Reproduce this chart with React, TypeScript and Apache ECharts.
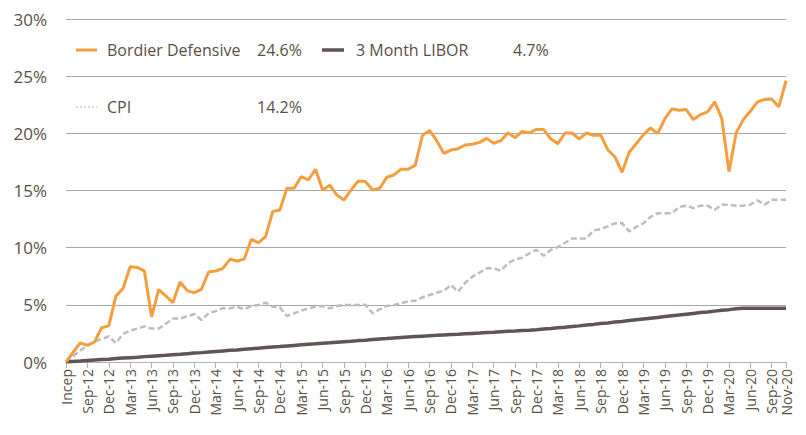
import React, { useEffect, useRef } from "react";
import * as echarts from "echarts";

const categories = [
  "Incep", "Jul-12", "Aug-12", "Sep-12", "Oct-12", "Nov-12", "Dec-12",
  "Jan-13", "Feb-13", "Mar-13", "Apr-13", "May-13", "Jun-13", "Jul-13", "Aug-13", "Sep-13", "Oct-13", "Nov-13", "Dec-13",
  "Jan-14", "Feb-14", "Mar-14", "Apr-14", "May-14", "Jun-14", "Jul-14", "Aug-14", "Sep-14", "Oct-14", "Nov-14", "Dec-14",
  "Jan-15", "Feb-15", "Mar-15", "Apr-15", "May-15", "Jun-15", "Jul-15", "Aug-15", "Sep-15", "Oct-15", "Nov-15", "Dec-15",
  "Jan-16", "Feb-16", "Mar-16", "Apr-16", "May-16", "Jun-16", "Jul-16", "Aug-16", "Sep-16", "Oct-16", "Nov-16", "Dec-16",
  "Jan-17", "Feb-17", "Mar-17", "Apr-17", "May-17", "Jun-17", "Jul-17", "Aug-17", "Sep-17", "Oct-17", "Nov-17", "Dec-17",
  "Jan-18", "Feb-18", "Mar-18", "Apr-18", "May-18", "Jun-18", "Jul-18", "Aug-18", "Sep-18", "Oct-18", "Nov-18", "Dec-18",
  "Jan-19", "Feb-19", "Mar-19", "Apr-19", "May-19", "Jun-19", "Jul-19", "Aug-19", "Sep-19", "Oct-19", "Nov-19", "Dec-19",
  "Jan-20", "Feb-20", "Mar-20", "Apr-20", "May-20", "Jun-20", "Jul-20", "Aug-20", "Sep-20", "Oct-20", "Nov-20",
];

const bordierDefensive = [
  0, 0.85, 1.67, 1.45, 1.75, 3.0, 3.16, 5.76, 6.43, 8.33, 8.27, 7.95, 3.95, 6.34, 5.79, 5.2, 7.0, 6.24, 6.06,
  6.36, 7.87, 7.96, 8.19, 8.98, 8.83, 9.0, 10.73, 10.44, 10.96, 13.15, 13.3, 15.19, 15.19, 16.22, 15.92, 16.86,
  15.05, 15.46, 14.6, 14.17, 15.05, 15.84, 15.78, 15.04, 15.19, 16.16, 16.36, 16.86, 16.86, 17.22, 19.82, 20.26,
  19.36, 18.25, 18.54, 18.66, 18.98, 19.04, 19.21, 19.56, 19.13, 19.36, 20.06, 19.62, 20.16, 20.05, 20.34, 20.33,
  19.51, 19.1, 20.03, 20.03, 19.51, 20.03, 19.83, 19.86, 18.57, 17.93, 16.59, 18.34, 19.1, 19.89, 20.47, 19.98,
  21.26, 22.14, 22.02, 22.08, 21.2, 21.64, 21.87, 22.75, 21.29, 16.65, 20.03, 21.2, 21.93, 22.75, 22.96, 23.01,
  22.31, 24.6,
];

const libor3m = [
  0, 0.04, 0.08, 0.13, 0.17, 0.21, 0.25, 0.3, 0.34, 0.38, 0.42, 0.47, 0.51, 0.55, 0.59, 0.64, 0.68, 0.73, 0.78,
  0.82, 0.87, 0.92, 0.97, 1.02, 1.06, 1.11, 1.16, 1.21, 1.26, 1.31, 1.35, 1.4, 1.45, 1.5, 1.55, 1.59, 1.64, 1.68,
  1.73, 1.78, 1.82, 1.87, 1.91, 1.96, 2.01, 2.05, 2.1, 2.14, 2.18, 2.22, 2.26, 2.3, 2.33, 2.37, 2.4, 2.43, 2.47,
  2.5, 2.53, 2.57, 2.6, 2.64, 2.68, 2.71, 2.75, 2.78, 2.82, 2.88, 2.93, 2.99, 3.04, 3.1, 3.16, 3.23, 3.29, 3.36,
  3.42, 3.49, 3.55, 3.62, 3.69, 3.76, 3.83, 3.9, 3.97, 4.04, 4.11, 4.18, 4.25, 4.32, 4.38, 4.45, 4.52, 4.58,
  4.65, 4.7, 4.71, 4.71, 4.71, 4.71, 4.71, 4.71,
];

const cpi = [
  0, 0.5, 1.0, 1.45, 1.8, 2.0, 2.25, 1.65, 2.45, 2.75, 2.92, 3.12, 2.92, 2.92, 3.35, 3.8, 3.8, 4.0, 4.2, 3.67,
  4.26, 4.45, 4.72, 4.69, 4.84, 4.6, 4.9, 4.99, 5.19, 4.84, 4.78, 4.02, 4.26, 4.49, 4.69, 4.84, 4.9, 4.69, 4.9,
  4.99, 4.99, 4.99, 5.0, 4.26, 4.6, 4.9, 4.99, 5.13, 5.31, 5.36, 5.66, 5.86, 6.06, 6.24, 6.73, 6.15, 6.94, 7.46,
  7.81, 8.19, 8.19, 7.99, 8.63, 8.98, 9.12, 9.5, 9.8, 9.29, 9.81, 10.05, 10.43, 10.8, 10.8, 10.8, 11.5, 11.62,
  11.86, 12.12, 12.15, 11.42, 11.82, 12.12, 12.7, 13.02, 13.02, 13.02, 13.55, 13.67, 13.46, 13.67, 13.67, 13.32,
  13.76, 13.76, 13.67, 13.67, 13.76, 14.14, 13.76, 14.19, 14.2, 14.2,
];

const seriesNames = ["Bordier Defensive", "3 Month LIBOR", "CPI"];
const seriesTotals = ["24.6%", "4.7%", "14.2%"];
const yTicks = [0, 5, 10, 15, 20, 25, 30];

const ORANGE = "#f59e3f";
const BROWN = "#5f5553";
const GREY = "#bdbdbd";
const TEXT = "#5a4f45";
const FONT = "Open Sans";

export default function App() {
  const ref = useRef<HTMLDivElement>(null);
  useEffect(() => {
    if (!ref.current) return;
    const chart = echarts.init(ref.current, null, { renderer: "svg" });
    const showIdx = (i: number) => i % 3 === 0 || i === categories.length - 1;
    const legendText = (x: number, y: number, t: string) => ({
      type: "text",
      x,
      y,
      style: { text: t, fill: TEXT, font: `16px '${FONT}'`, verticalAlign: "middle" },
    });
    chart.setOption({
      animation: false,
      grid: { left: 66, right: 20, top: 19, bottom: 73, containLabel: false },
      xAxis: {
        type: "category",
        data: categories,
        boundaryGap: false,
        axisLine: { lineStyle: { color: "#b0b0b0", width: 1 } },
        axisTick: { show: true, interval: (i: number) => showIdx(i), length: 6, lineStyle: { color: "#b0b0b0" } },
        axisLabel: {
          interval: (i: number) => showIdx(i),
          rotate: 90,
          color: TEXT,
          fontFamily: FONT,
          fontSize: 14,
          margin: 7,
        },
        splitLine: { show: false },
      },
      yAxis: {
        type: "value",
        min: yTicks[0],
        max: yTicks[yTicks.length - 1],
        interval: 5,
        axisLine: { show: false },
        axisTick: { show: false },
        axisLabel: { formatter: "{value}%", color: TEXT, fontFamily: FONT, fontSize: 17, margin: 19 },
        splitLine: { lineStyle: { color: "#a6a6a6", width: 1 } },
      },
      series: [
        {
          name: seriesNames[2],
          type: "line",
          data: cpi,
          symbol: "none",
          lineStyle: { color: GREY, width: 2.5, type: [6, 3] },
          z: 2,
        },
        {
          name: seriesNames[1],
          type: "line",
          data: libor3m,
          symbol: "none",
          lineStyle: { color: BROWN, width: 3.5 },
          z: 3,
        },
        {
          name: seriesNames[0],
          type: "line",
          data: bordierDefensive,
          symbol: "none",
          lineStyle: { color: ORANGE, width: 3 },
          z: 4,
        },
      ],
      graphic: [
        { type: "line", shape: { x1: 76, y1: 50, x2: 97, y2: 50 }, style: { stroke: ORANGE, lineWidth: 3 } },
        legendText(107, 50, seriesNames[0]),
        legendText(257, 50, seriesTotals[0]),
        { type: "line", shape: { x1: 322, y1: 50, x2: 344, y2: 50 }, style: { stroke: BROWN, lineWidth: 3.5 } },
        legendText(356, 50, seriesNames[1]),
        legendText(513, 50, seriesTotals[1]),
        { type: "line", shape: { x1: 76, y1: 107, x2: 97, y2: 107 }, style: { stroke: "#d9d9d9", lineWidth: 2, lineDash: [2, 2] } },
        legendText(107, 107, seriesNames[2]),
        legendText(257, 107, seriesTotals[2]),
      ],
    });
    return () => chart.dispose();
  }, []);
  return <div ref={ref} style={{ width: 806, height: 435, margin: -8 }} />;
}
